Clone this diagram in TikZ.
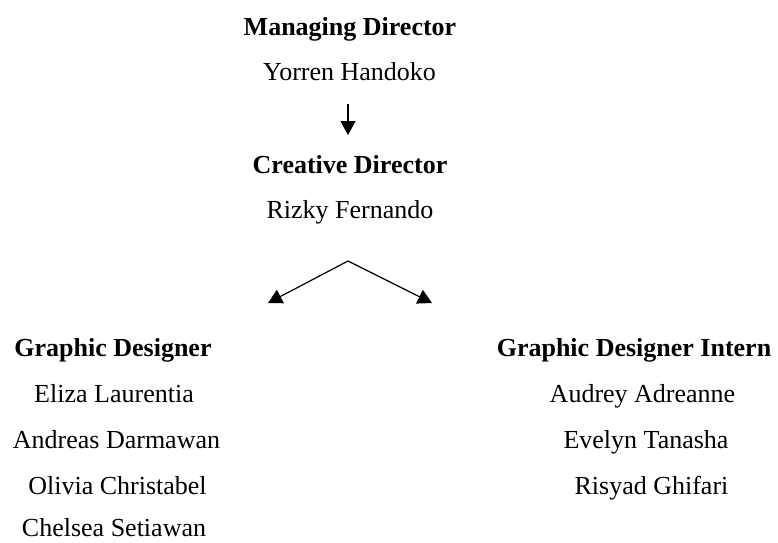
\documentclass[tikz,border=0pt]{standalone}
\usepackage{fontspec}
\setmainfont{Liberation Serif}
\usetikzlibrary{arrows.meta}
\begin{document}
\begin{tikzpicture}[x=1pt,y=-1pt,
  lbl/.style={inner sep=0pt,anchor=base,font=\fontsize{26}{30}\selectfont},
  ttl/.style={lbl,font=\fontsize{26}{30}\selectfont\bfseries},
  conn/.style={line width=1.2pt,-{Triangle[length=14pt,width=15pt]}}]
\useasboundingbox (0,0) rectangle (778,542);
\node[ttl] (md) at (350,35) {Managing Director};
\node[lbl] (yh) at (349.5,80) {Yorren Handoko};
\node[ttl] (cd) at (350,173) {Creative Director};
\node[lbl] (rf) at (350,218) {Rizky Fernando};
\coordinate (a1s) at (348,104);
\coordinate (a1e) at (348,135);
\draw[conn] (a1s) -- (a1e);
\coordinate (apex) at (348,261);
\coordinate (lt) at (268,303);
\coordinate (rt) at (432,303);
\draw[conn] (apex) -- (lt);
\draw[conn] (apex) -- (rt);
\node[ttl] (gd) at (113,356) {Graphic Designer};
\node[lbl] (g1) at (114,402) {Eliza Laurentia};
\node[lbl] (g2) at (116.5,448) {Andreas Darmawan};
\node[lbl] (g3) at (117.5,494) {Olivia Christabel};
\node[lbl] (g4) at (114,536) {Chelsea Setiawan};
\node[ttl] (gi) at (634,356) {Graphic Designer Intern};
\node[lbl] (i1) at (642.5,402) {Audrey Adreanne};
\node[lbl] (i2) at (646,448) {Evelyn Tanasha};
\node[lbl] (i3) at (651.5,494) {Risyad Ghifari};
\end{tikzpicture}
\end{document}
